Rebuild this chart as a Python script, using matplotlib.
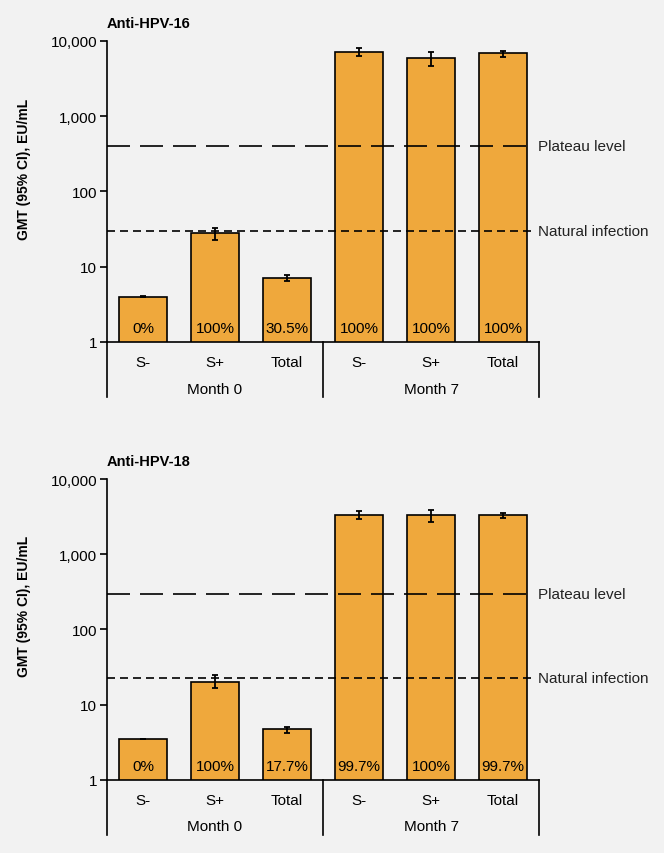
import matplotlib
matplotlib.use('Agg')
import matplotlib.pyplot as plt

plt.rcParams['font.family'] = ['Liberation Sans', 'DejaVu Sans']

categories = ['S-', 'S+', 'Total', 'S-', 'S+', 'Total']
groups = ['Month 0', 'Month 7']

# Anti-HPV-16
hpv16_gmt = [4.0, 27.8, 7.1, 7170, 5850, 6820]
hpv16_lo = [3.9, 22.4, 6.5, 6220, 4670, 6040]
hpv16_hi = [4.05, 32.4, 7.8, 8020, 7030, 7320]
hpv16_pct = ['0%', '100%', '30.5%', '100%', '100%', '100%']
hpv16_plateau = 404
hpv16_natural = 29.8

# Anti-HPV-18
hpv18_gmt = [3.48, 20.1, 4.72, 3280, 3280, 3280]
hpv18_lo = [3.44, 16.6, 4.2, 2960, 2690, 2990]
hpv18_hi = [3.52, 24.7, 5.0, 3710, 3820, 3550]
hpv18_pct = ['0%', '100%', '17.7%', '99.7%', '100%', '99.7%']
hpv18_plateau = 294
hpv18_natural = 22.5

bg = '#f2f2f2'
barcol = '#efa83c'

fig = plt.figure(figsize=(6.64, 8.54), dpi=100, facecolor=bg)


def panel(rect, title, gmt, lo, hi, pct, plateau, natural):
    ax = fig.add_axes(rect)
    ax.set_facecolor(bg)
    x = list(range(len(gmt)))
    yerr = [[g - l for g, l in zip(gmt, lo)], [h - g for g, h in zip(gmt, hi)]]
    ax.bar(x, gmt, width=0.66, color=barcol, edgecolor='black', linewidth=1.2, zorder=2)
    ax.errorbar(x, gmt, yerr=yerr, fmt='none', ecolor='black', elinewidth=1.3,
                capsize=2.5, capthick=1.3, zorder=4)
    ax.set_yscale('log')
    ax.set_ylim(1, 10000)
    ax.set_xlim(-0.5, 5.5)
    ax.set_yticks([1, 10, 100, 1000, 10000])
    ax.set_yticklabels(['1', '10', '100', '1,000', '10,000'])
    ax.minorticks_off()
    ax.tick_params(axis='y', labelsize=11, length=5, width=1.2, direction='out', pad=2)
    ax.tick_params(axis='x', bottom=False, labelbottom=False)
    for s in ['top', 'right']:
        ax.spines[s].set_visible(False)
    ax.spines['left'].set_linewidth(1.2)
    ax.spines['bottom'].set_linewidth(1.2)

    # reference lines
    ax.plot([-0.5, 5.4], [plateau, plateau], color='black', lw=1.2,
            dashes=(13.8, 6), zorder=3)
    ax.plot([-0.5, 5.4], [natural, natural], color='black', lw=1.2,
            dashes=(4.8, 3), zorder=3)
    ax.text(5.49, plateau, 'Plateau level', fontsize=11, color='#222222',
            ha='left', va='center', clip_on=False)
    ax.text(5.49, natural, 'Natural infection', fontsize=11, color='#222222',
            ha='left', va='center', clip_on=False)

    for xi, p in zip(x, pct):
        ax.text(xi, 1.52, p, fontsize=11, ha='center', va='center', zorder=5)

    # category axis below
    trans = ax.get_xaxis_transform()
    for xi, c in zip(x, categories):
        ax.text(xi, -0.067, c, fontsize=11, ha='center', va='center', transform=trans)
    for gi, g in enumerate(groups):
        ax.text(gi * 3 + 1, -0.155, g, fontsize=11, ha='center', va='center', transform=trans)
    for bx in [-0.5, 2.5, 5.5]:
        ax.plot([bx, bx], [0, -0.183], color='black', lw=1.2, transform=trans,
                clip_on=False)

    ax.set_ylabel('GMT (95% CI), EU/mL', fontsize=10, fontweight='bold')
    ax.yaxis.set_label_coords(-0.176, 0.578)
    ax.text(0.0, 1.06, title, fontsize=10.5, fontweight='bold', ha='left',
            va='center', transform=ax.transAxes)
    return ax


panel([0.161, 0.5984, 0.651, 0.3525], 'Anti-HPV-16', hpv16_gmt, hpv16_lo, hpv16_hi,
      hpv16_pct, hpv16_plateau, hpv16_natural)
panel([0.161, 0.0858, 0.651, 0.3521], 'Anti-HPV-18', hpv18_gmt, hpv18_lo, hpv18_hi,
      hpv18_pct, hpv18_plateau, hpv18_natural)

plt.savefig('out.png', dpi=100, facecolor=bg)
